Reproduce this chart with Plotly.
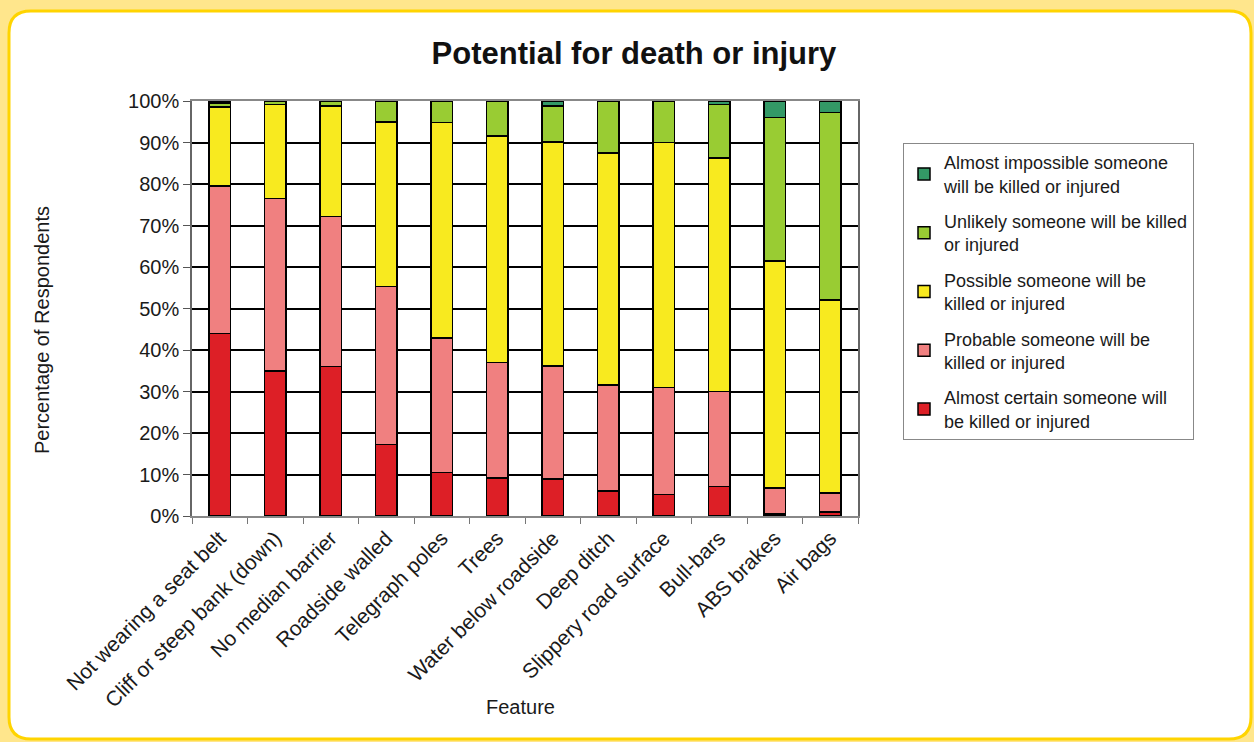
import plotly.graph_objects as go

features = ["Not wearing a seat belt", "Cliff or steep bank (down)", "No median barrier",
            "Roadside walled", "Telegraph poles", "Trees", "Water below roadside",
            "Deep ditch", "Slippery road surface", "Bull-bars", "ABS brakes", "Air bags"]

almost_certain = [44.0, 35.0, 36.0, 17.2, 10.5, 9.1, 8.9, 6.0, 5.2, 7.1, 0.5, 1.0]
probable = [35.5, 41.5, 36.2, 38.1, 32.4, 27.9, 27.3, 25.6, 25.8, 22.9, 6.3, 4.6]
possible = [19.0, 22.7, 26.6, 39.7, 51.9, 54.6, 53.9, 55.9, 59.0, 56.3, 54.6, 46.4]
unlikely = [1.0, 0.8, 1.2, 5.0, 5.2, 8.4, 8.7, 12.5, 10.0, 12.9, 34.6, 45.2]
almost_impossible = [0.5, 0.0, 0.0, 0.0, 0.0, 0.0, 1.2, 0.0, 0.0, 0.8, 4.0, 2.8]

y_tick_values = [0, 10, 20, 30, 40, 50, 60, 70, 80, 90, 100]
y_tick_labels = ["0%", "10%", "20%", "30%", "40%", "50%", "60%", "70%", "80%", "90%", "100%"]

series = [
    ("Almost certain someone will<br>be killed or injured", almost_certain, "#DD1F26"),
    ("Probable someone will be<br>killed or injured", probable, "#F08080"),
    ("Possible someone will be<br>killed or injured", possible, "#F8EA1F"),
    ("Unlikely someone will be killed<br>or injured", unlikely, "#99CC33"),
    ("Almost impossible someone<br>will be killed or injured", almost_impossible, "#339966"),
]

FONT = "Liberation Sans, Arial, sans-serif"

fig = go.Figure()
n = len(series)
for i, (name, vals, col) in enumerate(series):
    fig.add_trace(go.Bar(
        x=features, y=vals, name=name, legendgroup=f"g{i}", legendrank=n - i,
        marker=dict(color=col, line=dict(color="black", width=1.5)),
        width=0.38,
    ))

# pixel -> paper helpers for the plot area (l=192, r=858, t=101, b=516)
L, R, T, B = 192, 858, 101, 516
def px(x):
    return (x - L) / (R - L)
def py(y):
    return (B - y) / (B - T)

# rounded white panel
x0, y0, x1, y1, r = 9, 11, 1251, 739, 22
path = (f"M {px(x0 + r)},{py(y0)} L {px(x1 - r)},{py(y0)} "
        f"Q {px(x1)},{py(y0)} {px(x1)},{py(y0 + r)} "
        f"L {px(x1)},{py(y1 - r)} Q {px(x1)},{py(y1)} {px(x1 - r)},{py(y1)} "
        f"L {px(x0 + r)},{py(y1)} Q {px(x0)},{py(y1)} {px(x0)},{py(y1 - r)} "
        f"L {px(x0)},{py(y0 + r)} Q {px(x0)},{py(y0)} {px(x0 + r)},{py(y0)} Z")

fig.update_layout(
    width=1254, height=742,
    margin=dict(l=L, r=1254 - R, t=T, b=742 - B),
    paper_bgcolor="#FFE68C",
    plot_bgcolor="#C0C0C0",
    barmode="stack",
    font=dict(family=FONT, size=18, color="#1a1a1a"),
    title=dict(text="<b>Potential for death or injury</b>", x=634 / 1254, xanchor="center",
               y=1 - 53 / 742, yanchor="middle", yref="container",
               font=dict(size=31, color="#111", family=FONT)),
    shapes=[dict(type="path", path=path, xref="paper", yref="paper",
                 fillcolor="white", line=dict(color="#FFD400", width=3), layer="below")],
    legend=dict(x=px(903), y=py(143), xanchor="left", yanchor="top",
                bgcolor="white", bordercolor="#888888", borderwidth=1,
                traceorder="grouped", tracegroupgap=9,
                font=dict(size=18, family=FONT, color="#1a1a1a")),
    xaxis=dict(showgrid=False, ticks="outside", tickson="boundaries", ticklen=6,
               tickcolor="#777", tickangle=-45, linecolor="#888", linewidth=1.5,
               mirror=True, showline=True, tickfont=dict(size=21), zeroline=False),
    yaxis=dict(range=[0, 100], tickmode="array", tickvals=y_tick_values, ticktext=y_tick_labels,
               showgrid=True, gridcolor="black", gridwidth=1.5, ticks="outside",
               ticklen=7, tickcolor="#555", showline=True, linecolor="#666",
               linewidth=1.5, mirror=True, zeroline=False, tickfont=dict(size=20)),
    annotations=[
        dict(text="Percentage of Respondents", x=px(42), y=py(330), xref="paper", yref="paper",
             xanchor="center", yanchor="middle",
             textangle=-90, showarrow=False, font=dict(size=20)),
        dict(text="Feature", x=px(520), y=py(707), xref="paper", yref="paper",
             xanchor="center", yanchor="middle",
             showarrow=False, font=dict(size=20)),
    ],
    showlegend=True,
)

fig.write_html("out.html", config={"displayModeBar": False},
               post_script="document.body.style.margin='0';")
